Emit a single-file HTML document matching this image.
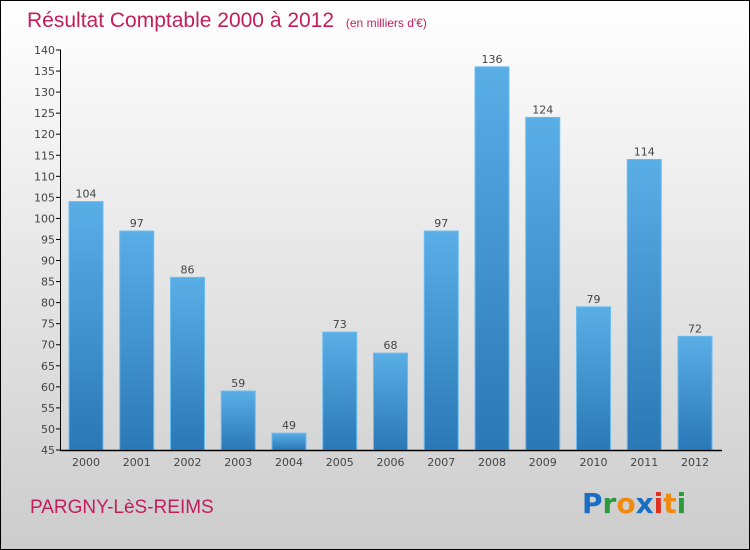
<!DOCTYPE html>
<html><head><meta charset="utf-8"><style>
body{margin:0;}
#c{position:relative;width:750px;height:550px;overflow:hidden;}
svg text{font-family:"DejaVu Sans","Liberation Sans",sans-serif;}
</style></head><body>
<div id="c">
<svg id="s" width="750" height="550" xmlns="http://www.w3.org/2000/svg">
<defs>
<linearGradient id="bg" x1="0" y1="0" x2="0" y2="1"><stop offset="0" stop-color="#ffffff"/><stop offset="1" stop-color="#cccccc"/></linearGradient>
<linearGradient id="bar" x1="0" y1="0" x2="0" y2="1"><stop offset="0" stop-color="#5aaee6"/><stop offset="1" stop-color="#2a78b6"/></linearGradient>
</defs>
<rect x="0.5" y="0.5" width="749" height="549" fill="url(#bg)" stroke="#000"/>
<text x="27" y="27" font-size="21" fill="#c41e5a" style="font-family:'Liberation Sans',sans-serif">Résultat Comptable 2000 à 2012 <tspan font-size="12" dx="6">(en milliers d'€)</tspan></text>
<text x="30" y="513" font-size="19" fill="#c41e5a" style="font-family:'Liberation Sans',sans-serif">PARGNY-LèS-REIMS</text>
<text x="582" y="513" font-size="28" font-weight="bold"><tspan fill="#1a6fc4">P</tspan><tspan fill="#2a9a3a">r</tspan><tspan fill="#f08a10">o</tspan><tspan fill="#1a6fc4">x</tspan><tspan fill="#e03020">i</tspan><tspan fill="#f08a10">t</tspan><tspan fill="#2a9a3a">i</tspan></text>
<g id="g"></g>
</svg></div>
<script>
const categories=["2000","2001","2002","2003","2004","2005","2006","2007","2008","2009","2010","2011","2012"];
const values=[104,97,86,59,49,73,68,97,136,124,79,114,72];
const yTicks=[45,50,55,60,65,70,75,80,85,90,95,100,105,110,115,120,125,130,135,140];
const yMin=45,yMax=140;
const NS="http://www.w3.org/2000/svg";
const g=document.getElementById('g');
function y(v){return 450-(v-yMin)*(400/(yMax-yMin));}
function x(i){return 86+i*50.75;}
function el(t,a){const e=document.createElementNS(NS,t);for(const k in a)e.setAttribute(k,a[k]);g.appendChild(e);return e;}
yTicks.forEach(t=>{
 const l=el('line',{x1:56,x2:61,y1:y(t),y2:y(t),stroke:'#000'});
 
 
 const tx=el('text',{x:55,y:y(t)+4,'font-size':11,'text-anchor':'end',fill:'#444'});
 tx.textContent=t;
 
 
});
categories.forEach((c,i)=>{
 const v=values[i];
 const r=el('rect',{x:x(i)-17,y:y(v),width:34,height:450-y(v),fill:'url(#bar)',stroke:'#6bbcf0','stroke-width':1});
 
 
 const vt=el('text',{x:x(i),y:y(v)-4,'font-size':11,'text-anchor':'middle',fill:'#444'});
 vt.textContent=v;
 
 
 const ct=el('text',{x:x(i),y:466,'font-size':11,'text-anchor':'middle',fill:'#444'});
 ct.textContent=c;
 
 
});
const ya=el('line',{x1:60.5,x2:60.5,y1:50,y2:451,stroke:'#000'});


const xa=el('line',{x1:60,x2:722,y1:450.5,y2:450.5,stroke:'#000','stroke-width':1.5});


</script>
</body></html>
